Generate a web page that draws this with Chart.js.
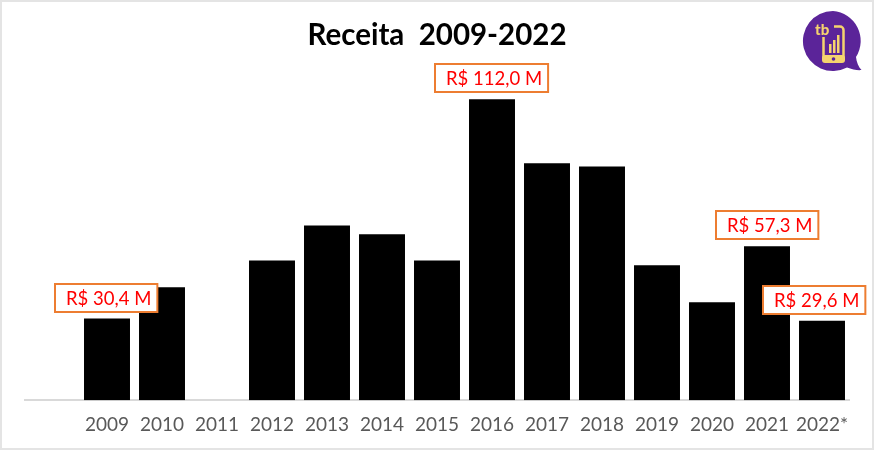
<!DOCTYPE html>
<html>
<head>
<meta charset="utf-8">
<title>Receita 2009-2022</title>
<script src="https://cdn.jsdelivr.net/npm/chart.js@4"></script>
<style>
  html, body { margin: 0; padding: 0; background: #fff; }
  #frame { position: relative; width: 874px; height: 450px; box-sizing: border-box; overflow: hidden; }
  #frame canvas { position: absolute; left: 0; top: 0; }
  #edge { position: absolute; left: 0; top: 0; width: 874px; height: 450px; box-sizing: border-box; border: 2px solid #e4e4e4; pointer-events: none; }
  #logo { position: absolute; left: 800px; top: 8px; }
</style>
</head>
<body>
<div id="frame">
  <canvas id="chart" width="874" height="450"></canvas>
  <div id="edge"></div>
  <svg id="logo" width="66" height="68" viewBox="0 0 66 68">
    <path d="M33 3a30 30 0 1 0 14 56.500c5 2 11 3 14.500 2.500c-3-3-5-8-5.500-13A30 30 0 0 0 33 3z" fill="#5b2499"/>
    <rect x="23.500" y="18.500" width="20" height="35" rx="3.500" fill="none" stroke="#f5d36e" stroke-width="2.500"/>
    <rect x="22" y="47" width="23" height="8" rx="3" fill="#f5d36e"/>
    <circle cx="33.500" cy="51" r="1.800" fill="#5b2499"/>
    <rect x="14" y="14" width="20" height="15" fill="#5b2499"/>
    <rect x="29" y="36" width="2.500" height="9" fill="#f5d36e"/>
    <rect x="33" y="32" width="2.500" height="13" fill="#f5d36e"/>
    <rect x="37" y="27" width="2.500" height="18" fill="#f5d36e"/>
    <text x="15" y="27" font-family="Lato" font-weight="900" font-size="15" fill="#f5d36e">tb</text>
  </svg>
</div>
<script>
// data (first category is an empty slot, 2011 has no bar)
var categories = ['', '2009', '2010', '2011', '2012', '2013', '2014', '2015', '2016', '2017', '2018', '2019', '2020', '2021', '2022*'];
var receita = [null, 30.4, 42, null, 52, 65, 61.8, 52, 112, 88.2, 87, 50.2, 36.5, 57.3, 29.6];
var calloutYears = ['2009', '2016', '2021', '2022*'];
var calloutTexts = ['R$ 30,4 M', 'R$ 112,0 M', 'R$ 57,3 M', 'R$ 29,6 M'];

var calloutShift = { '2022*': -7.5, '2009': -1 };

// red labels in orange boxes above the marked bars
var callouts = {
  id: 'callouts',
  afterDatasetsDraw: function(chart) {
    var ctx = chart.ctx;
    var bars = chart.getDatasetMeta(0).data;
    ctx.save();
    ctx.font = '18.5px Lato';
    ctx.textBaseline = 'middle';
    ctx.textAlign = 'left';
    calloutYears.forEach(function(year, i) {
      var bar = bars[categories.indexOf(year)];
      var w = ctx.measureText(calloutTexts[i]).width + 17;
      var h = 28;
      var cx = bar.x + (calloutShift[year] || 0);
      var left = Math.round(cx - w / 2);
      var top = Math.round(bar.y) - 6 - h - 1;
      ctx.fillStyle = '#fff';
      ctx.fillRect(left, top, w, h);
      ctx.strokeStyle = '#ed7d31';
      ctx.lineWidth = 2;
      ctx.strokeRect(left, top, w, h);
      ctx.fillStyle = '#ff0000';
      ctx.fillText(calloutTexts[i], left + 11, top + h / 2 + 1);
    });
    ctx.restore();
  }
};

new Chart(document.getElementById('chart'), {
  type: 'bar',
  data: {
    labels: categories,
    datasets: [{
      data: receita,
      backgroundColor: '#000',
      categoryPercentage: 1,
      barPercentage: 0.836
    }]
  },
  plugins: [callouts],
  options: {
    responsive: false,
    animation: false,
    layout: { padding: { left: 24.5, right: 24.5, top: 12, bottom: 1 } },
    plugins: {
      legend: { display: false },
      tooltip: { enabled: false },
      title: {
        display: true,
        text: 'Receita  2009-2022',
        color: '#000',
        font: { family: 'Lato', size: 29.5, weight: 'bold' },
        padding: { top: 6, bottom: 24.4 }
      }
    },
    scales: {
      x: {
        grid: { display: false, drawTicks: false },
        border: { color: '#d9d9d9', width: 2 },
        ticks: {
          color: '#595959',
          font: { family: 'Lato', size: 19 },
          padding: 13,
          maxRotation: 0,
          autoSkip: false
        }
      },
      y: {
        display: false,
        min: 0,
        max: 120
      }
    }
  }
});
</script>
</body>
</html>
